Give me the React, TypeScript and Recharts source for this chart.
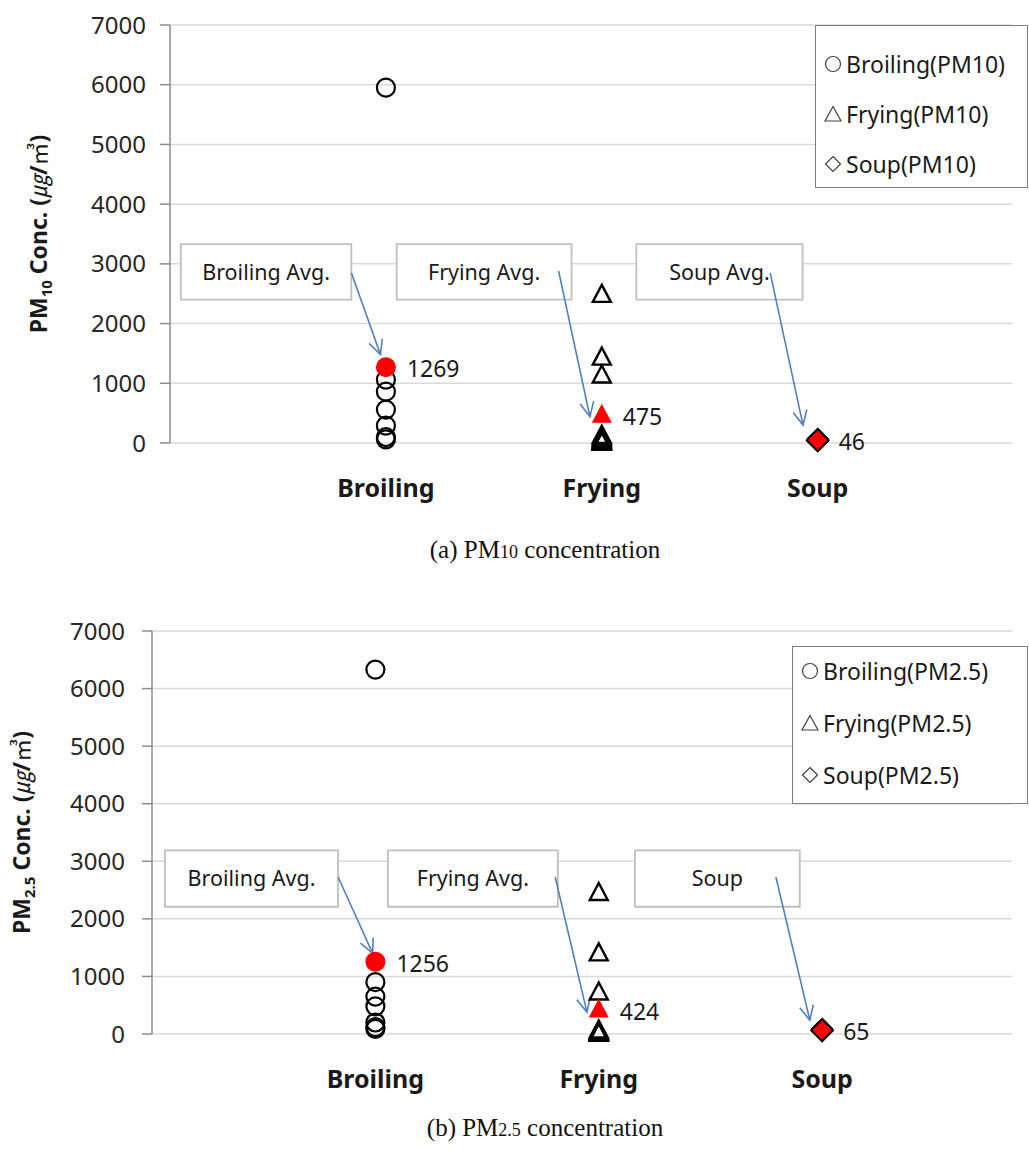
import React from 'react';
import {
  ScatterChart,
  Scatter,
  XAxis,
  YAxis,
  CartesianGrid,
  ReferenceArea,
  ReferenceLine,
} from 'recharts';

// ---- data ----
const categories = ['Broiling', 'Frying', 'Soup'];
const yTicks = [0, 1000, 2000, 3000, 4000, 5000, 6000, 7000];

// PM10 individual measurements (µg/m³)
const broilingPm10 = [5950, 1060, 860, 560, 290, 100, 60];
const fryingPm10 = [2480, 1430, 1130, 120, 90, 60, 40, 20, 10, 5];
const soupPm10 = [70, 45, 30, 40];
// PM10 averages per cooking type
const avgPm10 = [1269, 475, 46];

// PM2.5 individual measurements (µg/m³)
const broilingPm25 = [6330, 900, 650, 480, 200, 120, 90];
const fryingPm25 = [2450, 1400, 720, 60, 40, 20, 10, 5];
const soupPm25 = [90, 60, 50, 60];
// PM2.5 averages per cooking type
const avgPm25 = [1256, 424, 65];

const legendPm10 = ['Broiling(PM10)', 'Frying(PM10)', 'Soup(PM10)'];
const legendPm25 = ['Broiling(PM2.5)', 'Frying(PM2.5)', 'Soup(PM2.5)'];

const boxLabelsPm10 = ['Broiling Avg.', 'Frying Avg.', 'Soup Avg.'];
const boxLabelsPm25 = ['Broiling Avg.', 'Frying Avg.', 'Soup'];

// ---- helpers ----
const SANS = '"Noto Sans", "Open Sans", sans-serif';
const catPos = (name: string) => categories.indexOf(name) + 1;
const toPoints = (name: string, values: number[]) =>
  values.map((v) => ({ x: catPos(name), y: v }));
const avgPoints = (values: number[]) =>
  values.map((v, i) => ({ x: i + 1, y: v, kind: categories[i] }));

const HollowCircle = (p: any) => (
  <circle cx={p.cx} cy={p.cy} r={9} fill="none" stroke="#000" strokeWidth={2.2} />
);
const HollowTriangle = (p: any) => (
  <polygon
    points={`${p.cx},${p.cy - 10} ${p.cx + 9},${p.cy + 7} ${p.cx - 9},${p.cy + 7}`}
    fill="none"
    stroke="#000"
    strokeWidth={2.4}
    strokeLinejoin="miter"
  />
);
const HollowDiamond = (p: any) => (
  <polygon
    points={`${p.cx},${p.cy - 10} ${p.cx + 10},${p.cy} ${p.cx},${p.cy + 10} ${p.cx - 10},${p.cy}`}
    fill="none"
    stroke="#000"
    strokeWidth={2}
  />
);

// average marker (red) with its value written to the right
const AvgMarker = (p: any) => {
  const { cx, cy, payload } = p;
  let mark;
  if (payload.kind === 'Broiling') {
    mark = <circle cx={cx} cy={cy} r={10} fill="#ff0000" />;
  } else if (payload.kind === 'Frying') {
    mark = (
      <polygon
        points={`${cx},${cy - 11} ${cx + 10},${cy + 8} ${cx - 10},${cy + 8}`}
        fill="#ff0000"
      />
    );
  } else {
    mark = (
      <polygon
        points={`${cx},${cy - 11} ${cx + 11},${cy} ${cx},${cy + 11} ${cx - 11},${cy}`}
        fill="#ff0000"
        stroke="#000"
        strokeWidth={1.8}
      />
    );
  }
  return (
    <g>
      {mark}
      <text
        x={cx + 21}
        y={cy + 1}
        dominantBaseline="central"
        fontFamily={SANS}
        fontSize={23}
        fill="#1a1a1a"
      >
        {payload.y}
      </text>
    </g>
  );
};

const Arrow = (p: any) => {
  const { x1, y1, x2, y2 } = p;
  const ang = Math.atan2(y2 - y1, x2 - x1);
  const len = 16;
  const spread = 0.45;
  const ax = x2 - len * Math.cos(ang - spread);
  const ay = y2 - len * Math.sin(ang - spread);
  const bx = x2 - len * Math.cos(ang + spread);
  const by = y2 - len * Math.sin(ang + spread);
  return (
    <g stroke="#4f81bd" strokeWidth={1.6} fill="none">
      <line x1={x1} y1={y1} x2={x2} y2={y2} />
      <polyline points={`${ax},${ay} ${x2},${y2} ${bx},${by}`} />
    </g>
  );
};

const CategoryTick = (p: any) => (
  <text
    x={p.x}
    y={p.y + 46}
    textAnchor="middle"
    fontFamily={SANS}
    fontWeight={700}
    fontSize={25}
    fill="#1a1a1a"
  >
    {categories[p.payload.value - 1]}
  </text>
);

type Box = { x1: number; x2: number; y1: number; y2: number };
type ArrowSeg = { x1: number; y1: number; x2: number; y2: number };

interface PanelProps {
  top: number;
  yAxisWidth: number;
  xMax: number;
  height: number;
  marginTop: number;
  sub: string;
  titleX: number;
  broiling: number[];
  frying: number[];
  soup: number[];
  avg: number[];
  boxLabels: string[];
  boxes: Box[];
  arrows: ArrowSeg[];
  tickMargin: number;
}

const Panel = (props: PanelProps) => {
  const {
    top, yAxisWidth, xMax, height, marginTop, sub, titleX,
    broiling, frying, soup, avg, boxLabels, boxes, arrows, tickMargin,
  } = props;
  const YTitle = (lp: any) => {
    const vb = lp.viewBox;
    const cy = vb.y + vb.height / 2;
    return (
      <text
        transform={`translate(${titleX},${cy}) rotate(-90)`}
        textAnchor="middle"
        fontFamily={SANS}
        fontWeight={700}
        fontSize={23}
        fill="#1a1a1a"
      >
        <tspan>PM</tspan>
        <tspan fontSize={15} dy={5}>{sub}</tspan>
        <tspan dy={-5}> Conc. (</tspan>
        <tspan fontFamily='"Noto Sans CJK KR", sans-serif' fontWeight={400} fontStyle="italic">㎍</tspan>
        <tspan>/</tspan>
        <tspan fontFamily='"Noto Sans CJK KR", sans-serif' fontWeight={400}>㎥</tspan>
        <tspan>)</tspan>
      </text>
    );
  };
  return (
    <div style={{ position: 'absolute', left: 0, top }}>
      <ScatterChart
        width={1029}
        height={height}
        margin={{ top: marginTop, right: 17, bottom: 0, left: 0 }}
      >
        <CartesianGrid vertical={false} stroke="#d9d9d9" strokeWidth={1.5} />
        <XAxis
          type="number"
          dataKey="x"
          domain={[0, xMax]}
          ticks={[1, 2, 3]}
          axisLine={false}
          tickLine={false}
          height={60}
          tick={<CategoryTick />}
        />
        <YAxis
          type="number"
          dataKey="y"
          domain={[0, 7000]}
          ticks={yTicks}
          width={yAxisWidth}
          axisLine={{ stroke: '#8c8c8c', strokeWidth: 1.5 }}
          tickLine={{ stroke: '#8c8c8c', strokeWidth: 1.5 }}
          tickSize={10}
          tickMargin={tickMargin}
          tick={{ fontFamily: SANS, fontSize: 24, fill: '#262626' }}
          label={<YTitle />}
        />
        {boxes.map((b, i) => (
          <ReferenceArea
            key={`box-${i}`}
            x1={b.x1}
            x2={b.x2}
            y1={b.y1}
            y2={b.y2}
            fill="#ffffff"
            fillOpacity={1}
            stroke="#bfbfbf"
            strokeWidth={1.8}
            label={{
              value: boxLabels[i],
              position: 'center',
              fontFamily: SANS,
              fontSize: 21.5,
              fill: '#1a1a1a',
            }}
          />
        ))}
        {arrows.map((a, i) => (
          <ReferenceLine
            key={`arrow-${i}`}
            segment={[
              { x: a.x1, y: a.y1 },
              { x: a.x2, y: a.y2 },
            ]}
            shape={(lp: any) => <Arrow {...lp} />}
          />
        ))}
        <Scatter data={toPoints('Broiling', broiling)} shape={HollowCircle} isAnimationActive={false} />
        <Scatter data={toPoints('Frying', frying)} shape={HollowTriangle} isAnimationActive={false} />
        <Scatter data={toPoints('Soup', soup)} shape={HollowDiamond} isAnimationActive={false} />
        <Scatter data={avgPoints(avg)} shape={AvgMarker} isAnimationActive={false} />
      </ScatterChart>
    </div>
  );
};

const LegendIcon = ({ kind }: { kind: number }) => (
  <svg width={18} height={18} style={{ marginRight: 4, flex: 'none' }}>
    {kind === 0 && <circle cx={9} cy={9} r={7.5} fill="none" stroke="#404040" strokeWidth={1.2} />}
    {kind === 1 && <polygon points="9,1.5 17,16 1,16" fill="none" stroke="#404040" strokeWidth={1.2} />}
    {kind === 2 && <polygon points="9,1.5 16.5,9 9,16.5 1.5,9" fill="none" stroke="#404040" strokeWidth={1.2} />}
  </svg>
);

const LegendBox = ({ items, left, top, width, height, rowTop, rowGap }: any) => (
  <div
    style={{
      position: 'absolute',
      left,
      top,
      width,
      height,
      border: '1.5px solid #7f7f7f',
      background: '#fff',
      boxSizing: 'border-box',
      fontFamily: SANS,
      fontSize: 23,
      color: '#1a1a1a',
    }}
  >
    {items.map((t: string, i: number) => (
      <div
        key={t}
        style={{
          position: 'absolute',
          left: 8,
          top: rowTop + i * rowGap - 16,
          height: 32,
          display: 'flex',
          alignItems: 'center',
          whiteSpace: 'nowrap',
        }}
      >
        <LegendIcon kind={i} />
        <span>{t}</span>
      </div>
    ))}
  </div>
);

const Caption = ({ top, letter, sub }: { top: number; letter: string; sub: string }) => (
  <div
    style={{
      position: 'absolute',
      left: 0,
      width: 1090,
      top,
      textAlign: 'center',
      fontFamily: '"Liberation Serif", "Times New Roman", serif',
      fontSize: 25,
      color: '#111',
    }}
  >
    ({letter}) PM<span style={{ fontSize: 18 }}>{sub}</span> concentration
  </div>
);

export default function App() {
  return (
    <div
      style={{
        position: 'absolute',
        left: 0,
        top: 0,
        width: 1029,
        height: 1151,
        background: '#fff',
        overflow: 'hidden',
      }}
    >
      <Panel
        top={0}
        yAxisWidth={170}
        xMax={3.9}
        height={503}
        marginTop={25}
        sub="10"
        titleX={47}
        tickMargin={14}
        broiling={broilingPm10}
        frying={fryingPm10}
        soup={soupPm10}
        avg={avgPm10}
        boxLabels={boxLabelsPm10}
        boxes={[
          { x1: 0.05, x2: 0.84, y1: 2400, y2: 3330 },
          { x1: 1.05, x2: 1.86, y1: 2400, y2: 3330 },
          { x1: 2.16, x2: 2.93, y1: 2400, y2: 3330 },
        ]}
        arrows={[
          { x1: 0.84, y1: 2850, x2: 0.975, y2: 1480 },
          { x1: 1.8, y1: 2880, x2: 1.945, y2: 440 },
          { x1: 2.78, y1: 2850, x2: 2.932, y2: 300 },
        ]}
      />
      <LegendBox items={legendPm10} left={815} top={25} width={213} height={163} rowTop={38} rowGap={50} />
      <Caption top={536} letter="a" sub="10" />

      <Panel
        top={600}
        yAxisWidth={152}
        xMax={3.85}
        height={494}
        marginTop={31}
        sub="2.5"
        titleX={30}
        tickMargin={17}
        broiling={broilingPm25}
        frying={fryingPm25}
        soup={soupPm25}
        avg={avgPm25}
        boxLabels={boxLabelsPm25}
        boxes={[
          { x1: 0.058, x2: 0.833, y1: 2210, y2: 3190 },
          { x1: 1.056, x2: 1.817, y1: 2210, y2: 3190 },
          { x1: 2.162, x2: 2.9, y1: 2210, y2: 3190 },
        ]}
        arrows={[
          { x1: 0.833, y1: 2727, x2: 0.988, y2: 1400 },
          { x1: 1.805, y1: 2727, x2: 1.947, y2: 380 },
          { x1: 2.793, y1: 2727, x2: 2.945, y2: 240 },
        ]}
      />
      <LegendBox items={legendPm25} left={792} top={646} width={236} height={158} rowTop={24} rowGap={52} />
      <Caption top={1114} letter="b" sub="2.5" />
    </div>
  );
}
